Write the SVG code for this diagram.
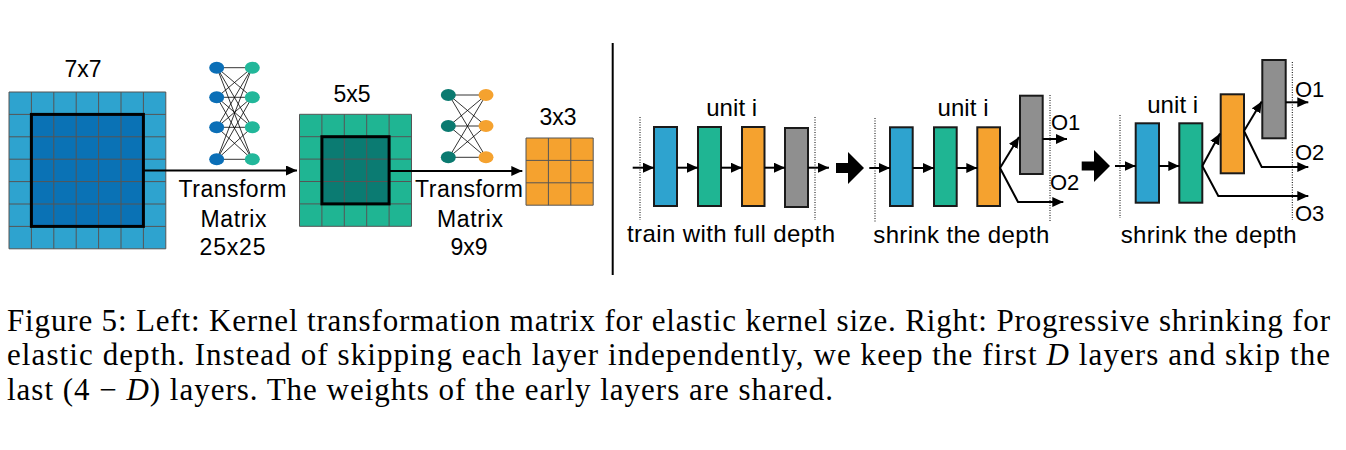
<svg xmlns="http://www.w3.org/2000/svg" width="1346" height="450" viewBox="0 0 1346 450">
<style>
.lbl{font-family:"Liberation Sans",Arial,sans-serif;font-size:23px;fill:#000;text-anchor:middle}
.lbls{font-family:"Liberation Sans",Arial,sans-serif;font-size:22px;fill:#000}
.big{font-size:24px}
.cap{font-family:"Liberation Serif","Times New Roman",serif;font-size:31px;fill:#000}
.grid{stroke:#555;stroke-width:1;fill:none}
.bold{stroke:#000;stroke-width:3;fill:none}
.arr{stroke:#000;stroke-width:2;fill:none;marker-end:url(#ah)}
.nn{stroke:#000;stroke-width:0.8}
.blk{stroke:#1a1a1a;stroke-width:2}
.dot{stroke:#000;stroke-width:1;stroke-dasharray:1 1.5}
.blue{fill:#2ea3cf}.green{fill:#1fb593}.orange{fill:#f5a22f}.gray{fill:#8f8f8f}
</style>
<defs>
<marker id="ah" markerUnits="userSpaceOnUse" markerWidth="12" markerHeight="11" refX="11" refY="5" orient="auto">
<path d="M0,0 L11,5 L0,10 z" fill="#000"/>
</marker>
</defs>
<rect width="1346" height="450" fill="#fff"/>

<g id="kernel7">
<rect x="9" y="92" width="156.8" height="156.8" fill="#2ea3cf"/>
<rect x="31.4" y="114.4" width="112" height="112" fill="#0a72b5"/>
<path class="grid" d="M9,92h156.8v156.8h-156.8z M31.4,92v156.8 M53.8,92v156.8 M76.2,92v156.8 M98.6,92v156.8 M121,92v156.8 M143.4,92v156.8 M9,114.4h156.8 M9,136.8h156.8 M9,159.2h156.8 M9,181.6h156.8 M9,204h156.8 M9,226.4h156.8"/>
<rect class="bold" x="31.4" y="114.4" width="112" height="112"/>
<text class="lbl" x="83" y="77">7x7</text>
</g>

<g id="nn1">
<g class="nn">
<path d="M217,67.7L252,67.7M217,67.7L252,97.3M217,67.7L252,127.3M217,67.7L252,159.3M217,97.3L252,67.7M217,97.3L252,97.3M217,97.3L252,127.3M217,97.3L252,159.3M217,127.3L252,67.7M217,127.3L252,97.3M217,127.3L252,127.3M217,127.3L252,159.3M217,159.3L252,67.7M217,159.3L252,97.3M217,159.3L252,127.3M217,159.3L252,159.3"/>
</g>
<g fill="#0b6fb7"><ellipse cx="216.7" cy="67.7" rx="7.5" ry="6"/><ellipse cx="216.7" cy="97.3" rx="7.5" ry="6"/><ellipse cx="216.7" cy="127.3" rx="7.5" ry="6"/><ellipse cx="216.7" cy="159.3" rx="7.5" ry="6"/></g>
<g fill="#22b79a"><ellipse cx="252.3" cy="67.7" rx="7.5" ry="6"/><ellipse cx="252.3" cy="97.3" rx="7.5" ry="6"/><ellipse cx="252.3" cy="127.3" rx="7.5" ry="6"/><ellipse cx="252.3" cy="159.3" rx="7.5" ry="6"/></g>
<text class="lbl" x="232.5" y="197" textLength="108" lengthAdjust="spacing">Transform</text>
<text class="lbl" x="233.5" y="227" textLength="66" lengthAdjust="spacing">Matrix</text>
<text class="lbl" x="232.5" y="255" textLength="66" lengthAdjust="spacing">25x25</text>
</g>

<g id="kernel5">
<rect x="299.5" y="114.3" width="112" height="112" fill="#1fb593"/>
<rect x="321.9" y="136.7" width="67.2" height="67.2" fill="#0b7b72"/>
<path class="grid" d="M299.5,114.3h112v112h-112z M321.9,114.3v112 M344.3,114.3v112 M366.7,114.3v112 M389.1,114.3v112 M299.5,136.7h112 M299.5,159.1h112 M299.5,181.5h112 M299.5,203.9h112"/>
<rect class="bold" x="321.9" y="136.7" width="67.2" height="67.2"/>
<text class="lbl" x="352" y="101.7">5x5</text>
</g>

<g id="nn2">
<g class="nn">
<path d="M449,95L486,95M449,95L486,126M449,95L486,157.3M449,126L486,95M449,126L486,126M449,126L486,157.3M449,157.3L486,95M449,157.3L486,126M449,157.3L486,157.3"/>
</g>
<g fill="#0b7a70"><ellipse cx="448.3" cy="95" rx="7.5" ry="6"/><ellipse cx="448.3" cy="126" rx="7.5" ry="6"/><ellipse cx="448.3" cy="157.3" rx="7.5" ry="6"/></g>
<g fill="#f5a22f"><ellipse cx="486" cy="95" rx="7.5" ry="6"/><ellipse cx="486" cy="126" rx="7.5" ry="6"/><ellipse cx="486" cy="157.3" rx="7.5" ry="6"/></g>
<text class="lbl" x="469" y="197" textLength="108" lengthAdjust="spacing">Transform</text>
<text class="lbl" x="470" y="227" textLength="66" lengthAdjust="spacing">Matrix</text>
<text class="lbl" x="469" y="255">9x9</text>
</g>

<g id="kernel3">
<rect x="526" y="138" width="67.2" height="67.2" fill="#f5a22f"/>
<path class="grid" d="M526,138h67.2v67.2h-67.2z M548.4,138v67.2 M570.8,138v67.2 M526,160.4h67.2 M526,182.8h67.2"/>
<text class="lbl" x="558" y="125">3x3</text>
</g>

<g id="divider">
<line x1="612.7" y1="43" x2="612.7" y2="275" stroke="#000" stroke-width="2"/>
</g>

<g id="panel1">
<line class="dot" x1="640" y1="117" x2="640" y2="220"/>
<line class="dot" x1="815" y1="117" x2="815" y2="220"/>
<rect class="blk blue" x="654" y="127" width="23" height="79"/>
<rect class="blk green" x="698" y="127" width="23" height="79"/>
<rect class="blk orange" x="742" y="127" width="22.5" height="79"/>
<rect class="blk gray" x="785" y="128" width="23" height="79"/>
<text class="lbl big" x="731.7" y="116" textLength="51" lengthAdjust="spacing">unit i</text>
<text class="lbl big" x="731" y="241.7" textLength="208" lengthAdjust="spacing">train with full depth</text>
</g>

<g id="panel2">
<line class="dot" x1="875" y1="118" x2="875" y2="222"/>
<line class="dot" x1="1050" y1="95" x2="1050" y2="222"/>
<rect class="blk blue" x="890" y="127.3" width="22.7" height="78.7"/>
<rect class="blk green" x="934" y="127.3" width="22.7" height="78.7"/>
<rect class="blk orange" x="977.3" y="127.3" width="22.7" height="78.7"/>
<rect class="blk gray" x="1020" y="95.7" width="22.7" height="78.3"/>
<text class="lbl big" x="963" y="116" textLength="51" lengthAdjust="spacing">unit i</text>
<text class="lbl big" x="961.3" y="243" textLength="176" lengthAdjust="spacing">shrink the depth</text>
<text class="lbls" x="1051" y="130">O1</text>
<text class="lbls" x="1050" y="190">O2</text>
</g>

<g id="panel3">
<line class="dot" x1="1120" y1="115" x2="1120" y2="218"/>
<line class="dot" x1="1292.3" y1="62" x2="1292.3" y2="220"/>
<rect class="blk blue" x="1135.7" y="123.3" width="23.3" height="79.4"/>
<rect class="blk green" x="1179.3" y="123.3" width="23" height="79.4"/>
<rect class="blk orange" x="1220.7" y="94.3" width="23.3" height="79"/>
<rect class="blk gray" x="1262.3" y="60" width="23.4" height="78.3"/>
<text class="lbl big" x="1172.7" y="113.3" textLength="51" lengthAdjust="spacing">unit i</text>
<text class="lbl big" x="1208.7" y="243.3" textLength="176" lengthAdjust="spacing">shrink the depth</text>
<text class="lbls" x="1295" y="96.7">O1</text>
<text class="lbls" x="1295" y="160">O2</text>
<text class="lbls" x="1295" y="221">O3</text>
</g>

<g id="connectors">
<line class="arr" x1="143.4" y1="170.5" x2="297" y2="170.5"/>
<line class="arr" x1="389.1" y1="171" x2="522.3" y2="171"/>
<line class="arr" x1="632.7" y1="167.7" x2="654" y2="167.7"/>
<line class="arr" x1="677" y1="167.7" x2="698" y2="167.7"/>
<line class="arr" x1="721" y1="167.7" x2="742" y2="167.7"/>
<line class="arr" x1="764.5" y1="167.7" x2="785" y2="167.7"/>
<line class="arr" x1="808" y1="167.7" x2="829" y2="167.7"/>
<path d="M836,163 L848,163 L848,152 L864,168 L848,184 L848,173 L836,173 z" fill="#000"/>
<line class="arr" x1="869.3" y1="168" x2="890" y2="168"/>
<line class="arr" x1="912.7" y1="168" x2="934" y2="168"/>
<line class="arr" x1="956.7" y1="168" x2="977.3" y2="168"/>
<line class="arr" x1="1000" y1="168" x2="1019" y2="137"/>
<polyline class="arr" points="1000,168 1018,202 1063.3,202"/>
<line class="arr" x1="1042.7" y1="139" x2="1067" y2="139"/>
<path d="M1081.7,161.5 L1094,161.5 L1094,150 L1110,166 L1094,182 L1094,170.5 L1081.7,170.5 z" fill="#000"/>
<line class="arr" x1="1115" y1="166" x2="1135.7" y2="166"/>
<line class="arr" x1="1159" y1="166" x2="1179.3" y2="166"/>
<line class="arr" x1="1202.3" y1="166" x2="1220" y2="133.5"/>
<polyline class="arr" points="1202.3,166 1218.3,196 1308.3,196"/>
<line class="arr" x1="1244" y1="131" x2="1261.7" y2="101.5"/>
<polyline class="arr" points="1244,131 1261.7,167 1308.3,167"/>
<line class="arr" x1="1285.7" y1="102.3" x2="1308.3" y2="102.3"/>
</g>

<g id="caption">
<text class="cap" x="7" y="330.5" textLength="1323" lengthAdjust="spacing">Figure 5: Left: Kernel transformation matrix for elastic kernel size. Right: Progressive shrinking for</text>
<text class="cap" x="7" y="365.2" textLength="1323" lengthAdjust="spacing">elastic depth. Instead of skipping each layer independently, we keep the first <tspan font-style="italic">D</tspan> layers and skip the</text>
<text class="cap" x="7" y="399.9" textLength="826" lengthAdjust="spacing">last (4 − <tspan font-style="italic">D</tspan>) layers. The weights of the early layers are shared.</text>
</g>
</svg>
